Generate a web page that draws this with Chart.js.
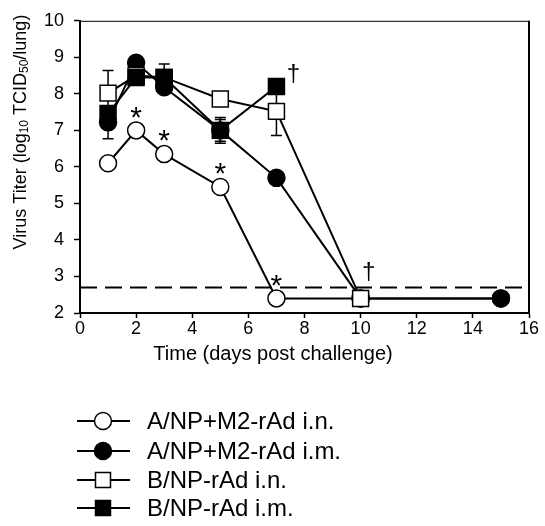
<!DOCTYPE html>
<html>
<head>
<meta charset="utf-8">
<script src="https://cdn.jsdelivr.net/npm/chart.js@4/dist/chart.umd.min.js"></script>
<style>
  body { margin: 0; background: #fff; overflow: hidden; }
  canvas { display: block; }
</style>
</head>
<body>
<canvas id="myChart" width="545" height="526"></canvas>
<script>
// days after challenge and virus titer (log10 TCID50/lung) per group
const daysOpenCircle = [1, 2, 3, 5, 7, 10, 15];
const titerOpenCircle = [6.1, 7.0, 6.35, 5.45, 2.4, 2.4, 2.4];
const errOpenCircle = [0.1, 0.12, 0.15, 0.15, 0, 0, 0];

const daysFilledCircle = [1, 2, 3, 5, 7, 10, 15];
const titerFilledCircle = [7.22, 8.85, 8.18, 7.0, 5.7, 2.4, 2.4];
const errFilledCircle = [0.45, 0.1, 0.12, 0.35, 0.15, 0, 0];

const daysOpenSquare = [1, 2, 3, 5, 7, 10];
const titerOpenSquare = [8.02, 8.5, 8.45, 7.86, 7.52, 2.4];
const errOpenSquare = [0.62, 0.1, 0.1, 0.12, 0.66, 0];

const daysFilledSquare = [1, 2, 3, 5, 7];
const titerFilledSquare = [7.46, 8.45, 8.45, 7.0, 8.2];
const errFilledSquare = [0.2, 0.1, 0.37, 0.3, 0.15];

const labels = ["A/NP+M2-rAd i.n.", "A/NP+M2-rAd i.m.", "B/NP-rAd i.n.", "B/NP-rAd i.m."];
const detectionLimit = 2.7;
const starDays = [2, 3, 5, 7];   // * on the A/NP+M2-rAd i.n. group
const xTicks = [0, 2, 4, 6, 8, 10, 12, 14, 16];
const yTicks = [2, 3, 4, 5, 6, 7, 8, 9, 10];

const FONT = "'Liberation Sans', Arial, sans-serif";

function pts(xs, ys) {
    return xs.map((x, i) => ({ x: x, y: ys[i] }));
}

function makeSet(label, xs, ys, errs, style, filled, radius, order) {
    return {
        label: label,
        data: pts(xs, ys),
        errs: errs,
        showLine: true,
        borderColor: "#000",
        borderWidth: 2,
        pointStyle: style,
        pointRadius: radius,
        pointHoverRadius: radius,
        pointBackgroundColor: filled ? "#000" : "#fff",
        pointBorderColor: "#000",
        pointBorderWidth: 1.5,
        order: order
    };
}

const datasets = [
    makeSet(labels[0], daysOpenCircle, titerOpenCircle, errOpenCircle, "circle", false, 8.5, 4),
    makeSet(labels[1], daysFilledCircle, titerFilledCircle, errFilledCircle, "circle", true, 8.5, 3),
    makeSet(labels[2], daysOpenSquare, titerOpenSquare, errOpenSquare, "rect", false, 11.3, 2),
    makeSet(labels[3], daysFilledSquare, titerFilledSquare, errFilledSquare, "rect", true, 11.3, 1)
];

const errorBars = {
    id: "errorBars",
    beforeDatasetsDraw(chart) {
        const ctx = chart.ctx;
        const xs = chart.scales.x, ys = chart.scales.y;
        ctx.save();
        ctx.strokeStyle = "#000";
        ctx.lineWidth = 1.5;
        chart.data.datasets.forEach(ds => {
            ds.data.forEach((p, i) => {
                const e = ds.errs[i];
                if (!e) return;
                const px = xs.getPixelForValue(p.x);
                const top = ys.getPixelForValue(p.y + e);
                const bot = ys.getPixelForValue(p.y - e);
                ctx.beginPath();
                ctx.moveTo(px, top); ctx.lineTo(px, bot);
                ctx.moveTo(px - 5.5, top); ctx.lineTo(px + 5.5, top);
                ctx.moveTo(px - 5.5, bot); ctx.lineTo(px + 5.5, bot);
                ctx.stroke();
            });
        });
        // detection limit
        const yl = ys.getPixelForValue(detectionLimit);
        ctx.lineWidth = 2;
        ctx.setLineDash([17, 8]);
        ctx.beginPath();
        ctx.moveTo(chart.chartArea.left, yl);
        ctx.lineTo(chart.chartArea.right, yl);
        ctx.stroke();
        ctx.restore();
    },
    afterDraw(chart) {
        const ctx = chart.ctx;
        const xs = chart.scales.x, ys = chart.scales.y;
        const area = chart.chartArea;
        ctx.save();
        // frame top and right
        ctx.strokeStyle = "#000";
        ctx.lineWidth = 1;
        ctx.beginPath();
        ctx.moveTo(area.left, area.top + 0.5);
        ctx.lineTo(area.right, area.top + 0.5);
        ctx.stroke();
        ctx.lineWidth = 2;
        ctx.beginPath();
        ctx.moveTo(area.right, area.top);
        ctx.lineTo(area.right, area.bottom);
        ctx.stroke();

        ctx.fillStyle = "#000";
        // asterisks
        ctx.font = "30px " + FONT;
        ctx.textAlign = "center";
        ctx.textBaseline = "middle";
        starDays.forEach(d => {
            const i = daysOpenCircle.indexOf(d);
            ctx.fillText("*", xs.getPixelForValue(d), ys.getPixelForValue(titerOpenCircle[i]) - 12);
        });
        // daggers
        ctx.font = "24px " + FONT;
        const fi = daysFilledSquare.indexOf(7);
        ctx.fillText("\u2020", xs.getPixelForValue(7) + 17, ys.getPixelForValue(titerFilledSquare[fi]) - 12);
        const oi = daysOpenSquare.indexOf(10);
        ctx.fillText("\u2020", xs.getPixelForValue(10) + 8, ys.getPixelForValue(titerOpenSquare[oi]) - 26);

        // x title
        ctx.font = "20px " + FONT;
        ctx.fillText("Time (days post challenge)", 273, 354);

        // y title with subscripts
        ctx.translate(21, 132);
        ctx.rotate(-Math.PI / 2);
        const parts = [["Virus Titer (log", 0], ["10", 1], [" TCID", 0], ["50", 1], ["/lung)", 0]];
        const big = "18px " + FONT, small = "12px " + FONT;
        let w = 0;
        parts.forEach(p => { ctx.font = p[1] ? small : big; w += ctx.measureText(p[0]).width; });
        let x = -w / 2;
        ctx.textAlign = "left";
        parts.forEach(p => {
            ctx.font = p[1] ? small : big;
            ctx.fillText(p[0], x, p[1] ? 4 : 0);
            x += ctx.measureText(p[0]).width;
        });
        ctx.restore();

        // legend
        ctx.save();
        const rows = [421, 451, 480, 508];
        chart.data.datasets.forEach((ds, i) => {
            const y = rows[i];
            ctx.strokeStyle = "#000";
            ctx.lineWidth = 2;
            ctx.beginPath();
            ctx.moveTo(77, y); ctx.lineTo(130, y);
            ctx.stroke();
            ctx.lineWidth = 1.5;
            ctx.fillStyle = ds.pointBackgroundColor;
            ctx.beginPath();
            if (ds.pointStyle === "circle") {
                ctx.arc(103, y, 8.5, 0, Math.PI * 2);
            } else {
                ctx.rect(103 - 7.5, y - 7.5, 15, 15);
            }
            ctx.fill();
            ctx.stroke();
            ctx.fillStyle = "#000";
            ctx.font = "24px " + FONT;
            ctx.textAlign = "left";
            ctx.textBaseline = "middle";
            ctx.fillText(ds.label, 147, y + 1);
        });
        ctx.restore();
    }
};

const myChart = new Chart("myChart", {
    type: "scatter",
    data: { datasets: datasets },
    options: {
        responsive: false,
        animation: false,
        devicePixelRatio: 1,
        layout: { padding: { top: 13, right: 16, left: 0, bottom: 0 } },
        plugins: {
            legend: { display: false },
            tooltip: { enabled: false }
        },
        scales: {
            x: {
                type: "linear",
                min: 0,
                max: 16,
                afterFit: s => { s.height = 213; },
                afterBuildTicks: s => { s.ticks = xTicks.map(v => ({ value: v })); },
                grid: { drawOnChartArea: false, drawTicks: true, tickLength: 5, tickWidth: 1.5, tickColor: "#000" },
                border: { display: true, color: "#000", width: 2 },
                ticks: { color: "#000", font: { family: FONT, size: 18 }, padding: 0, maxRotation: 0 }
            },
            y: {
                type: "linear",
                min: 2,
                max: 10,
                afterFit: s => { s.width = 80; },
                afterBuildTicks: s => { s.ticks = yTicks.map(v => ({ value: v })); },
                grid: { drawOnChartArea: false, drawTicks: true, tickLength: 6, tickWidth: 1.5, tickColor: "#000" },
                border: { display: true, color: "#000", width: 2 },
                ticks: { color: "#000", font: { family: FONT, size: 18 }, padding: 10 }
            }
        }
    },
    plugins: [errorBars]
});
</script>
</body>
</html>
